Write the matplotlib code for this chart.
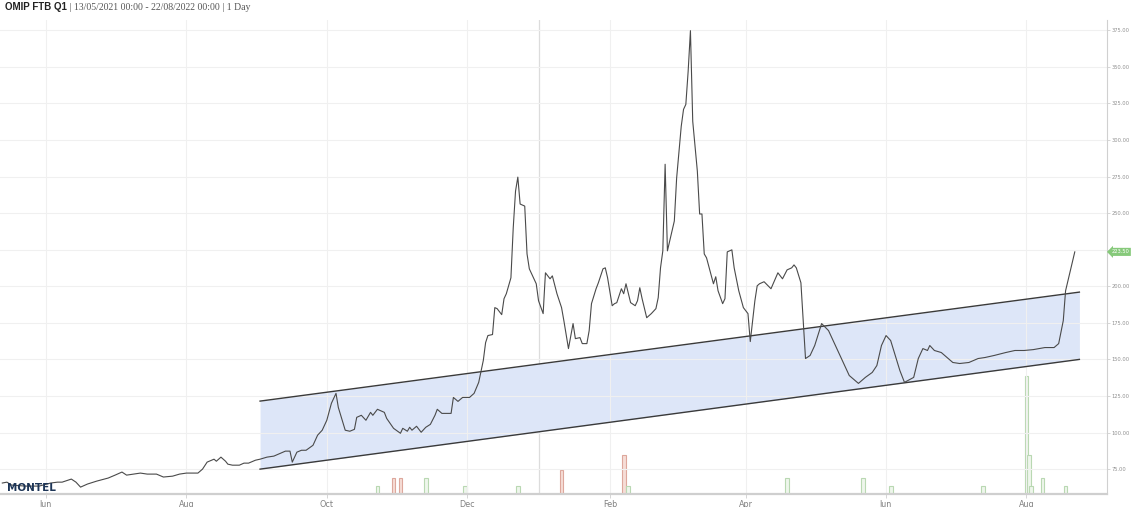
import matplotlib
matplotlib.use("Agg")
import matplotlib.dates as mdates
import matplotlib.pyplot as plt
import pandas as pd
from matplotlib.ticker import FixedLocator, FuncFormatter

# daily close
price_dates = [
    "2021-05-13", "2021-05-15", "2021-05-17", "2021-05-23", "2021-05-29", "2021-06-03",
    "2021-06-06", "2021-06-08", "2021-06-12", "2021-06-14", "2021-06-16", "2021-06-19",
    "2021-06-23", "2021-06-28", "2021-07-01", "2021-07-04", "2021-07-06", "2021-07-09",
    "2021-07-12", "2021-07-15", "2021-07-19", "2021-07-22", "2021-07-26", "2021-07-29",
    "2021-08-01", "2021-08-06", "2021-08-08", "2021-08-10", "2021-08-13", "2021-08-14",
    "2021-08-16", "2021-08-18", "2021-08-19", "2021-08-21", "2021-08-24", "2021-08-26",
    "2021-08-28", "2021-08-31", "2021-09-02", "2021-09-05", "2021-09-08", "2021-09-11",
    "2021-09-13", "2021-09-15", "2021-09-16", "2021-09-18", "2021-09-20", "2021-09-22",
    "2021-09-25", "2021-09-27", "2021-09-29", "2021-10-01", "2021-10-03", "2021-10-05",
    "2021-10-06", "2021-10-09", "2021-10-11", "2021-10-13", "2021-10-14", "2021-10-16",
    "2021-10-18", "2021-10-20", "2021-10-21", "2021-10-23", "2021-10-25", "2021-10-26",
    "2021-10-27", "2021-10-30", "2021-11-02", "2021-11-03", "2021-11-05", "2021-11-06",
    "2021-11-07", "2021-11-09", "2021-11-11", "2021-11-13", "2021-11-15", "2021-11-17",
    "2021-11-18", "2021-11-20", "2021-11-24", "2021-11-25", "2021-11-27", "2021-11-29",
    "2021-12-02", "2021-12-04", "2021-12-06", "2021-12-08", "2021-12-09", "2021-12-10",
    "2021-12-12", "2021-12-13", "2021-12-14", "2021-12-16", "2021-12-17", "2021-12-18",
    "2021-12-20", "2021-12-21", "2021-12-22", "2021-12-23", "2021-12-24", "2021-12-26",
    "2021-12-27", "2021-12-28", "2021-12-31", "2022-01-01", "2022-01-03", "2022-01-04",
    "2022-01-06", "2022-01-07", "2022-01-09", "2022-01-11", "2022-01-12", "2022-01-14",
    "2022-01-16", "2022-01-17", "2022-01-19", "2022-01-20", "2022-01-22", "2022-01-23",
    "2022-01-24", "2022-01-26", "2022-01-27", "2022-01-29", "2022-01-30", "2022-01-31",
    "2022-02-02", "2022-02-03", "2022-02-04", "2022-02-06", "2022-02-07", "2022-02-08",
    "2022-02-10", "2022-02-12", "2022-02-13", "2022-02-14", "2022-02-15", "2022-02-17",
    "2022-02-19", "2022-02-21", "2022-02-22", "2022-02-23", "2022-02-24", "2022-02-25",
    "2022-02-26", "2022-03-01", "2022-03-02", "2022-03-04", "2022-03-05", "2022-03-06",
    "2022-03-07", "2022-03-08", "2022-03-09", "2022-03-11", "2022-03-12", "2022-03-13",
    "2022-03-14", "2022-03-15", "2022-03-18", "2022-03-19", "2022-03-20", "2022-03-22",
    "2022-03-23", "2022-03-24", "2022-03-26", "2022-03-27", "2022-03-29", "2022-03-31",
    "2022-04-02", "2022-04-03", "2022-04-05", "2022-04-06", "2022-04-07", "2022-04-09",
    "2022-04-12", "2022-04-15", "2022-04-17", "2022-04-19", "2022-04-21", "2022-04-22",
    "2022-04-23", "2022-04-25", "2022-04-26", "2022-04-27", "2022-04-29", "2022-05-01",
    "2022-05-04", "2022-05-07", "2022-05-10", "2022-05-13", "2022-05-16", "2022-05-20",
    "2022-05-23", "2022-05-26", "2022-05-28", "2022-05-30", "2022-06-01", "2022-06-03",
    "2022-06-05", "2022-06-07", "2022-06-09", "2022-06-13", "2022-06-15", "2022-06-17",
    "2022-06-19", "2022-06-20", "2022-06-22", "2022-06-25", "2022-06-28", "2022-06-30",
    "2022-07-03", "2022-07-07", "2022-07-11", "2022-07-14", "2022-07-18", "2022-07-23",
    "2022-07-27", "2022-07-31", "2022-08-04", "2022-08-09", "2022-08-13", "2022-08-15",
    "2022-08-17", "2022-08-18", "2022-08-22",
]
price_values = [
    65.5, 66.1, 64.1, 63.4, 63.4, 65.5,
    66.1, 66.1, 68.2, 66.1, 62.7, 64.8,
    66.8, 68.9, 70.9, 73.0, 70.9, 71.6,
    72.3, 71.6, 71.6, 69.6, 70.2, 71.6,
    72.3, 72.3, 75.0, 79.8, 81.8, 80.4,
    83.2, 80.4, 78.4, 77.7, 77.7, 79.1,
    79.1, 81.1, 81.8, 83.2, 83.9, 85.9,
    87.3, 87.3, 79.8, 86.6, 87.9, 87.9,
    91.3, 98.2, 101.6, 108.4, 120.0, 126.8,
    117.2, 101.6, 100.9, 102.2, 110.4, 111.8,
    108.4, 113.8, 111.8, 115.9, 114.5, 113.8,
    109.7, 102.9, 99.5, 102.9, 100.9, 103.6,
    101.6, 104.3, 100.2, 103.6, 105.6, 111.8,
    115.9, 113.1, 113.1, 124.0, 121.3, 124.0,
    124.0, 126.8, 134.3, 149.3, 161.5, 166.3,
    167.0, 185.4, 184.7, 180.6, 191.5, 194.9,
    205.8, 239.8, 265.0, 274.6, 256.2, 254.8,
    222.1, 211.9, 201.7, 190.1, 181.3, 209.2,
    205.1, 207.1, 194.9, 185.4, 176.5, 157.4,
    174.5, 164.2, 164.9, 160.8, 160.8, 169.7,
    188.1, 198.3, 202.4, 211.9, 212.6, 205.8,
    186.7, 188.1, 188.8, 198.3, 194.9, 201.7,
    188.8, 186.7, 190.1, 199.0, 191.5, 178.5,
    181.3, 184.7, 192.2, 212.6, 224.2, 283.4,
    224.2, 244.6, 273.9, 309.3, 320.9, 324.3,
    346.8, 374.7, 312.7, 278.7, 249.4, 249.4,
    222.1, 219.4, 201.7, 206.5, 196.9, 188.1,
    191.5, 223.5, 224.9, 212.6, 196.9, 185.4,
    181.3, 162.2, 190.1, 200.3, 201.7, 203.1,
    198.3, 209.2, 205.1, 211.2, 212.6, 214.6,
    212.6, 202.4, 176.5, 150.6, 152.7, 159.5,
    174.5, 169.7, 159.5, 149.3, 139.0, 133.6,
    137.7, 141.1, 145.8, 159.5, 166.3, 162.9,
    152.7, 142.4, 134.3, 137.7, 150.6, 157.4,
    156.1, 159.5, 156.1, 154.7, 150.6, 147.9,
    147.2, 147.9, 150.6, 151.3, 152.7, 154.7,
    156.1, 156.1, 156.7, 158.1, 158.1, 160.8,
    176.5, 196.9, 223.5,
]

# trend channel drawn on the chart
channel_dates = ["2021-09-02", "2022-08-24"]
channel_upper = [121.5, 196.0]
channel_lower = [75.0, 150.0]

# traded volume (lots) and side
vol_dates = [
    "2021-10-23", "2021-10-30", "2021-11-02", "2021-11-13", "2021-11-30", "2021-12-23",
    "2022-01-11", "2022-02-07", "2022-02-09", "2022-04-19", "2022-05-22", "2022-06-03",
    "2022-07-13", "2022-08-01", "2022-08-02", "2022-08-03", "2022-08-08", "2022-08-18",
]
vol_values = [1, 2, 2, 2, 1, 1, 3, 5, 1, 2, 2, 1, 1, 15, 5, 1, 2, 1]
vol_side = [
    "up", "down", "down", "up", "up", "up",
    "down", "down", "up", "up", "up", "up",
    "up", "up", "up", "up", "up", "up",
]

last_value = 223.50
title_name = "OMIP FTB Q1"
title_info = " | 13/05/2021 00:00 - 22/08/2022 00:00 | 1 Day"

W, H = 1132, 507
fig = plt.figure(figsize=(W / 100, H / 100), dpi=100)
ax = fig.add_axes([0.0, 13 / H, 1107 / W, 474 / H])

x = pd.to_datetime(price_dates)
cx = pd.to_datetime(channel_dates)

ax.fill_between(cx, channel_lower, channel_upper, color="#dde6f8", lw=0, zorder=1)
ax.plot(cx, channel_upper, color="#3a3a3a", lw=1.0, zorder=3)
ax.plot(cx, channel_lower, color="#3a3a3a", lw=1.0, zorder=3)
ax.plot(x, price_values, color="#4a4a4a", lw=0.8, zorder=4)

ax.set_xlim(pd.Timestamp("2021-05-12"), pd.Timestamp("2022-09-05"))
ax.set_ylim(58, 382)

# volume overlay on its own scale
vax = ax.twinx()
vax.set_ylim(0, 60)
edge = {"up": "#b9d8b2", "down": "#dda79c"}
face = {"up": "#eef6ec", "down": "#f6ddd7"}
vx = pd.to_datetime(vol_dates)
for d, v, s in zip(vx, vol_values, vol_side):
    vax.bar(d, v, width=1.6, color=face[s], edgecolor=edge[s], linewidth=0.8, zorder=2)
vax.set_yticks([])
for sp in vax.spines.values():
    sp.set_visible(False)
ax.set_zorder(2)
vax.set_zorder(1)
ax.patch.set_visible(False)

# axes styling
for side in ("left", "top"):
    ax.spines[side].set_visible(False)
ax.spines["right"].set_color("#d0d0d0")
ax.spines["bottom"].set_color("#cfcfcf")
ax.spines["bottom"].set_linewidth(1.6)

ax.yaxis.tick_right()
ax.set_yticks(range(75, 376, 25))
ax.yaxis.set_major_formatter(FuncFormatter(lambda v, _: f"{v:.2f}"))
ax.tick_params(axis="y", labelsize=3.7, colors="#d0d0d0", labelcolor="#909090",
               length=2, width=0.6, pad=1)

month_ticks = pd.date_range("2021-06-01", "2022-08-01", freq="2MS")
ax.xaxis.set_major_locator(FixedLocator(mdates.date2num(month_ticks)))
ax.xaxis.set_major_formatter(FuncFormatter(
    lambda v, _: (mdates.num2date(v).strftime("%Y") if mdates.num2date(v).month == 1
                  else mdates.num2date(v).strftime("%b"))))
ax.tick_params(axis="x", labelsize=5.8, colors="#cfcfcf", labelcolor="#808080",
               length=3, width=0.6, pad=1)

ax.grid(axis="y", color="#f0f0f0", lw=0.8, zorder=0)
ax.grid(axis="x", color="#f0f0f0", lw=0.8, zorder=0)
ax.axvline(pd.Timestamp("2022-01-01"), color="#dcdcdc", lw=0.9, zorder=0)

# last value tag, covers the 225 label like the original
ax.text(1.004, last_value, f"{last_value:.2f}", transform=ax.get_yaxis_transform(),
        fontsize=3.7, color="white", va="center", ha="left", zorder=10, clip_on=False,
        bbox=dict(boxstyle="larrow,pad=0.3", fc="#86c97a", ec="none"))

# header and logo
t = fig.text(5 / W, 1 - 7 / H, title_name, fontsize=7, fontweight="bold",
             family="Liberation Sans", color="#222222", va="center")
fig.canvas.draw()
bb = t.get_window_extent()
fig.text(bb.x1 / W, 1 - 7 / H, title_info, fontsize=7, family="Liberation Serif",
         color="#555555", va="center")
fig.text(7 / W, 19 / H, "MONTEL", fontsize=7.5, fontweight="black",
         family="DejaVu Sans", color="#1d3557", va="center", zorder=20)

fig.savefig("out.png", dpi=100)
